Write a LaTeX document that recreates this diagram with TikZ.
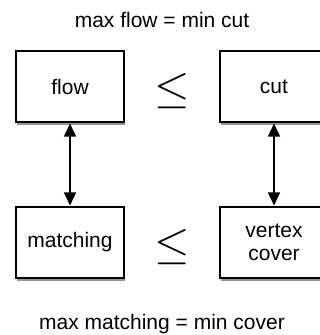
\documentclass[tikz,border=0pt]{standalone}
\usepackage{fontspec}
\setmainfont{Liberation Sans}
\usetikzlibrary{shadows,arrows.meta}
\begin{document}
\begin{tikzpicture}[x=1pt,y=-1pt,
  box/.style={draw=black, line width=1.1pt, fill=white, minimum width=108pt, minimum height=71pt,
    inner sep=0pt, align=center, font=\fontsize{21}{23}\selectfont,
    drop shadow={fill=black!60, opacity=0.7, shadow xshift=1pt, shadow yshift=-2.5pt}},
  lbl/.style={font=\fontsize{21}{23}\selectfont, inner sep=0pt},
  rel/.style={font=\fontsize{20}{24}\selectfont, scale=2.2, inner sep=0pt},
  arr/.style={{Triangle[length=13pt,width=12pt]}-{Triangle[length=13pt,width=12pt]}, line width=1.6pt, shorten <=1pt, shorten >=1pt}]
\useasboundingbox (0,0) rectangle (320,335);
\begin{scope}
\clip (0,0) rectangle (320,335);
\node[lbl] (top) at (162,20) {max flow = min cut};
\node[box] (flow) at (70,86.5) {flow};
\node[box] (cut) at (274,86.5) {cut};
\node[box] (matching) at (70,242.5) {matching};
\node[box] (cover) at (274,242.5) {vertex\\cover};
\node[rel] (le1) at (172,91) {$\leq$};
\node[rel] (le2) at (172,247) {$\leq$};
\node[lbl] (bottom) at (162,324) {max matching = min cover};
\draw[arr] (flow.south) -- (matching.north);
\draw[arr] (cut.south) -- (cover.north);
\end{scope}
\end{tikzpicture}
\end{document}
